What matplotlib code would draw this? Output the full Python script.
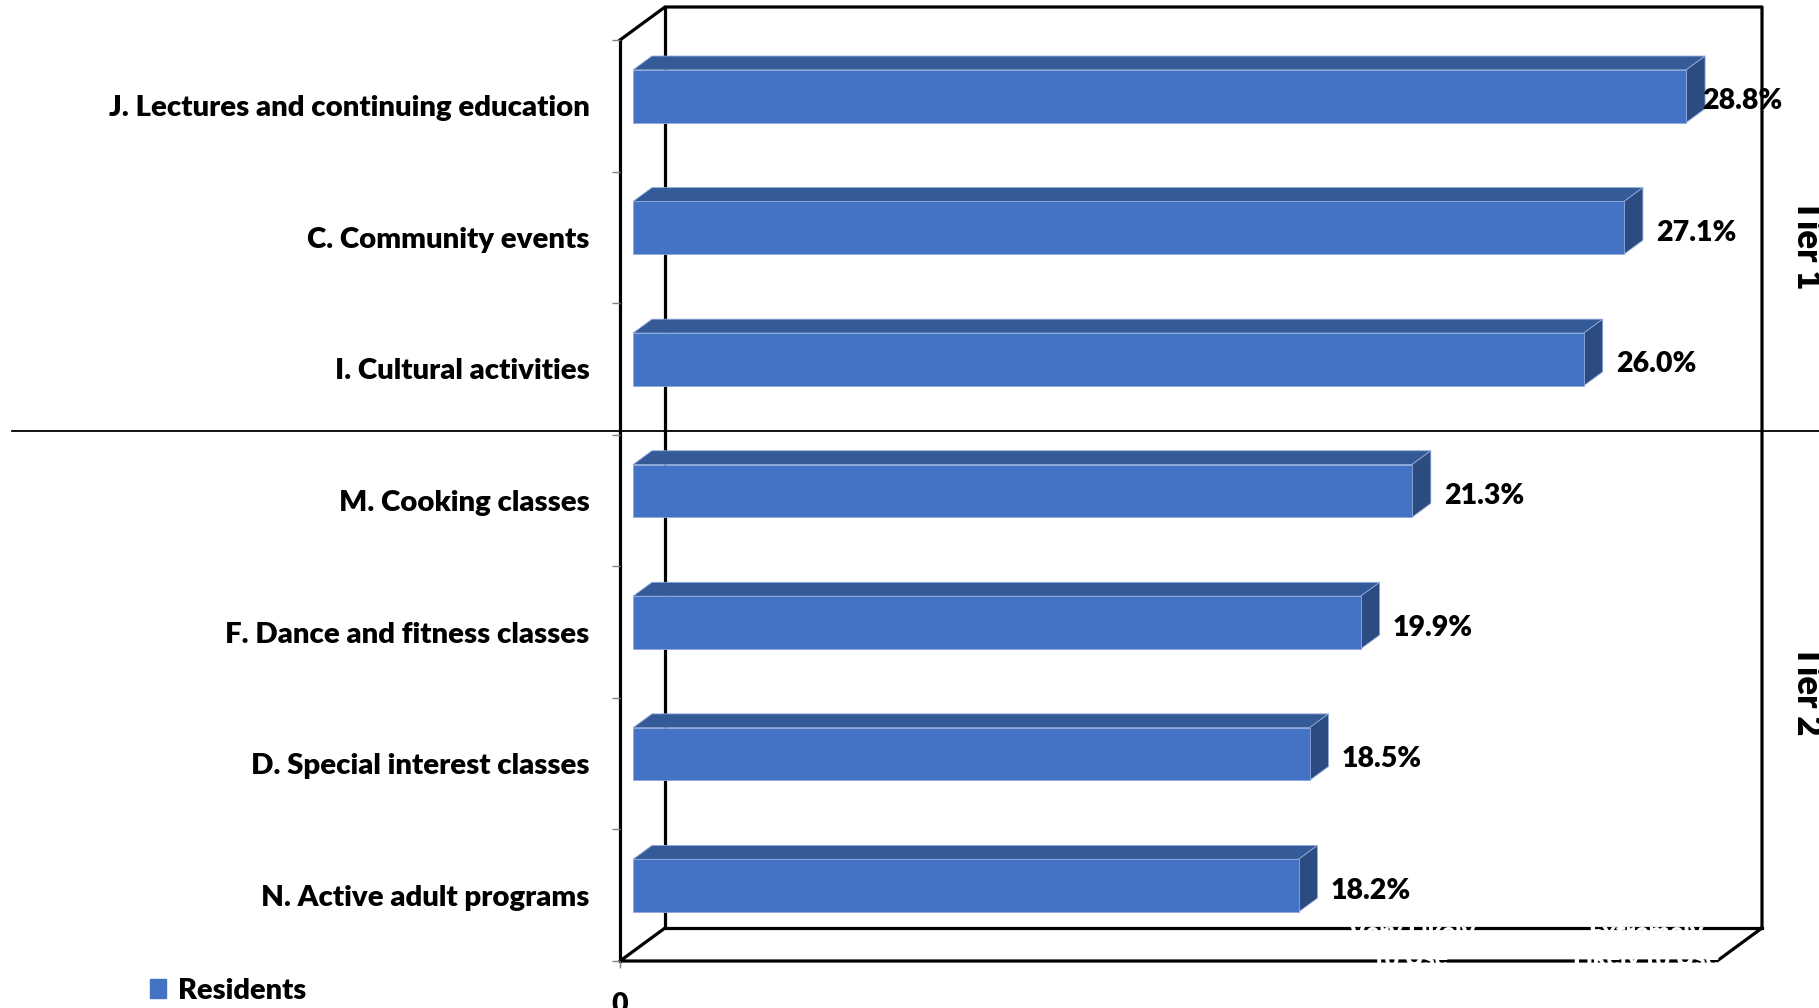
import matplotlib
matplotlib.use("Agg")
import matplotlib.pyplot as plt
import matplotlib.transforms as mtransforms
from matplotlib.patches import Polygon, Patch
from matplotlib.lines import Line2D
import numpy as np

programs = ["J. Lectures and continuing education", "C. Community events",
            "I. Cultural activities", "M. Cooking classes",
            "F. Dance and fitness classes", "D. Special interest classes",
            "N. Active adult programs"]
residents = [28.8, 27.1, 26.0, 21.3, 19.9, 18.5, 18.2]
tiers = ["Tier 1", "Tier 2"]
tier_sizes = [3, 4]
floor_labels = ["Very Likely\nto Use", "Extremely\nLikely to Use"]
floor_label_x = [21.65, 28.05]

plt.rcParams['font.family'] = ['Lato', 'DejaVu Sans']
plt.rcParams['font.weight'] = 'heavy'
WT = 'heavy'

W, H, DPI = 1819, 1008, 100
fig = plt.figure(figsize=(W / DPI, H / DPI), dpi=DPI)
# axes = front plane of the 3-d box
ax = fig.add_axes([620 / W, 1 - 961 / H, 1097 / W, 921 / H])
n = len(programs)
xmax = 30
ax.set_xlim(0, xmax)
ax.set_ylim(n, 0)
for s in ax.spines.values():
    s.set_visible(False)

# category labels + small ticks on the front wall
ax.set_yticks(np.arange(n) + 0.5, programs, fontweight=WT)
ax.set_yticks(np.arange(n + 1), minor=True)
ax.tick_params(axis='y', which='major', length=0, pad=22, labelsize=21.2)
ax.tick_params(axis='y', which='minor', length=6, width=1, color='#808080')
ax.set_xticks([0], ['0'], fontweight=WT)
ax.tick_params(axis='x', length=5, width=1, color='#808080', pad=17, labelsize=20.5)

DEPTH = np.array([45.0, 33.0])   # pixel shift from front to back wall
ID = mtransforms.IdentityTransform()
D0, D1 = 0.29, 0.71              # depth range occupied by the bars
HALF = 0.2


def px(x, y, d=0.0):
    return ax.transData.transform((x, y)) + d * DEPTH


def seg(pts, lw=2.3, z=1, color='black'):
    pts = np.array(pts)
    ax.add_line(Line2D(pts[:, 0], pts[:, 1], transform=ID, color=color,
                       lw=lw, zorder=z, clip_on=False, solid_capstyle='projecting'))


# box frame: walls and floor
seg([px(0, 0), px(0, n)])
seg([px(0, 0), px(0, 0, 1), px(xmax, 0, 1), px(xmax, n, 1)])
seg([px(0, 0, 1), px(0, n, 1), px(xmax, n, 1)])
seg([px(0, n, 1), px(0, n), px(xmax, n), px(xmax, n, 1)])

# 3-d bars
front_c, top_c, side_c, edge_c = '#4472C4', '#345A98', '#2C4B80', '#8FAADC'
for i, v in enumerate(residents):
    y0, y1 = i + 0.5 - HALF, i + 0.5 + HALF
    faces = [
        ([px(0, y0, D0), px(v, y0, D0), px(v, y0, D1), px(0, y0, D1)], top_c),
        ([px(v, y0, D0), px(v, y1, D0), px(v, y1, D1), px(v, y0, D1)], side_c),
        ([px(0, y0, D0), px(v, y0, D0), px(v, y1, D0), px(0, y1, D0)], front_c),
    ]
    for pts, c in faces:
        ax.add_patch(Polygon(pts, closed=True, transform=ID, facecolor=c,
                             edgecolor=edge_c, lw=0.6, zorder=2, clip_on=False))
    gap = -3 if i == 0 else 13
    dx = (D1 * DEPTH[0] + gap) * 0.72
    dy = 4.5 * 0.72
    ax.annotate(f"{v:.1f}%", xy=(v, i + 0.5), xytext=(dx, dy),
                textcoords='offset points', ha='left', va='center',
                fontsize=20.5, fontweight=WT, zorder=3, annotation_clip=False)

# floor labels (white, only visible where they cross the frame)
for lab, x in zip(floor_labels, floor_label_x):
    ax.annotate(lab, xy=(x, n), xytext=(0, 15 * 0.72), textcoords='offset points',
                ha='center', va='center', color='white', fontsize=18,
                fontweight=WT, linespacing=1.2, zorder=5, annotation_clip=False)

# tier divider and tier names
bt = mtransforms.blended_transform_factory(fig.transFigure, ax.transData)
shift = mtransforms.ScaledTranslation(0, 4 / DPI, fig.dpi_scale_trans)
start = 0
for k, (name, size) in enumerate(zip(tiers, tier_sizes)):
    mid = start + size / 2
    ax.text(1807 / W, mid + (0.05 if k == 0 else -0.06), name, transform=bt,
            rotation=-90, ha='center', va='center', fontsize=25,
            fontweight=WT, clip_on=False)
    start += size
    if k < len(tiers) - 1:
        ax.add_line(Line2D([12 / W, 1.0], [start, start], transform=bt + shift,
                           color='black', lw=1.3, zorder=4, clip_on=False))

fig.legend(handles=[Patch(color=front_c, label='Residents')], loc='center left',
           bbox_to_anchor=(124 / W, 1 - 991 / H), frameon=False,
           handlelength=0.55, handleheight=0.6, handletextpad=0.4,
           prop={'size': 21, 'weight': WT})

fig.savefig("out.png", dpi=DPI)
